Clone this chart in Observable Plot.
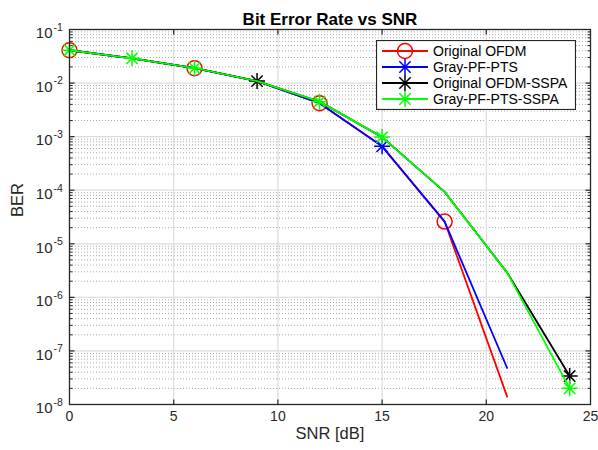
<!DOCTYPE html>
<html>
<head>
<meta charset="utf-8">
<script src="https://cdn.jsdelivr.net/npm/d3@7"></script>
<script src="https://cdn.jsdelivr.net/npm/@observablehq/plot@0.6"></script>
<style>
  body { margin: 0; background: #fff; }
  #chart { position: relative; width: 598px; height: 450px; font-family: "Liberation Sans", Arial, Helvetica, sans-serif; }
  #chart > svg.legend { position: absolute; left: 376px; top: 40px; }
</style>
</head>
<body>
<div id="chart"></div>
<script>
// SNR sample points (dB) and measured bit error rates per scheme
const snr = [0, 3, 6, 9, 12, 15, 18, 21, 24];
const berOriginalOfdm     = [0.041, 0.029, 0.019, 0.0109, 0.0042, 0.00066, 2.6e-5, 1.4e-8];
const berGrayPfPts        = [0.041, 0.029, 0.019, 0.0109, 0.0042, 0.00066, 2.6e-5, 4.8e-8];
const berOriginalOfdmSspa = [0.041, 0.029, 0.019, 0.0109, 0.0045, 0.00098, 9.3e-5, 2.9e-6, 3.4e-8];
const berGrayPfPtsSspa    = [0.041, 0.029, 0.019, 0.0109, 0.0045, 0.00098, 9.3e-5, 2.9e-6, 2.0e-8];

// SNR values at which each curve shows its marker
const markerSnrOriginalOfdm     = [0, 6, 12, 18];
const markerSnrGrayPfPts        = [15];
const markerSnrOriginalOfdmSspa = [9, 24];
const markerSnrGrayPfPtsSspa    = [0, 3, 6, 12, 15, 24];

const seriesNames  = ["Original OFDM", "Gray-PF-PTS", "Original OFDM-SSPA", "Gray-PF-PTS-SSPA"];
const seriesColors = ["#ff0000", "#0000ff", "#000000", "#00ff00"];

const xTicks = [0, 5, 10, 15, 20, 25];
const yTickExponents = [-8, -7, -6, -5, -4, -3, -2, -1];

const title = "Bit Error Rate vs SNR";
const xLabel = "SNR [dB]";
const yLabel = "BER";

// ---------------------------------------------------------------------------
// Custom symbols: eight-armed asterisk marker and one-sided tick marks
const asterisk = {
  draw(ctx, size) {
    const r = Math.sqrt(size / Math.PI), d = r * Math.SQRT1_2;
    ctx.moveTo(-r, 0); ctx.lineTo(r, 0);
    ctx.moveTo(0, -r); ctx.lineTo(0, r);
    ctx.moveTo(-d, -d); ctx.lineTo(d, d);
    ctx.moveTo(-d, d); ctx.lineTo(d, -d);
  }
};
const tickSymbol = (ux, uy) => ({
  draw(ctx, size) {
    const r = Math.sqrt(size / Math.PI);
    ctx.moveTo(0, 0); ctx.lineTo(ux * r, uy * r);
  }
});

const berValues = [berOriginalOfdm, berGrayPfPts, berOriginalOfdmSspa, berGrayPfPtsSspa];
const markerSnrs = [markerSnrOriginalOfdm, markerSnrGrayPfPts, markerSnrOriginalOfdmSspa, markerSnrGrayPfPtsSspa];

const series = seriesNames.map((name, i) => ({
  name,
  color: seriesColors[i],
  symbol: i === 0 ? "circle" : asterisk,
  r: i === 0 ? 7.5 : 8,
  points: berValues[i].map((ber, j) => ({name, snr: snr[j], ber})),
  markers: markerSnrs[i]
}));

const decades = yTickExponents.map(e => Math.pow(10, e));
const minorValues = yTickExponents.slice(0, -1).flatMap(e => d3.range(2, 10).map(k => k * Math.pow(10, e)));
const innerXTicks = xTicks.slice(1, -1);
const innerDecades = decades.slice(1, -1);

const ink = "#262626";

const marks = [
  // grid
  Plot.ruleY(minorValues, {y: d => d, stroke: "#aaaaaa", strokeDasharray: "1,2", strokeWidth: 1}),
  Plot.ruleY(innerDecades, {y: d => d, stroke: "#dcdcdc", strokeWidth: 1.2}),
  Plot.ruleX(innerXTicks, {x: d => d, stroke: "#dcdcdc", strokeWidth: 1.2}),
  // inward ticks on all four sides
  Plot.dot(innerXTicks, {x: d => d, frameAnchor: "bottom", symbol: tickSymbol(0, -1), r: 5, stroke: ink, fill: "none", strokeWidth: 1.2}),
  Plot.dot(innerXTicks, {x: d => d, frameAnchor: "top", symbol: tickSymbol(0, 1), r: 5, stroke: ink, fill: "none", strokeWidth: 1.2}),
  Plot.dot(innerDecades, {y: d => d, frameAnchor: "left", symbol: tickSymbol(1, 0), r: 5, stroke: ink, fill: "none", strokeWidth: 1.2}),
  Plot.dot(innerDecades, {y: d => d, frameAnchor: "right", symbol: tickSymbol(-1, 0), r: 5, stroke: ink, fill: "none", strokeWidth: 1.2}),
  Plot.dot(minorValues, {y: d => d, frameAnchor: "left", symbol: tickSymbol(1, 0), r: 3, stroke: ink, fill: "none", strokeWidth: 1}),
  Plot.dot(minorValues, {y: d => d, frameAnchor: "right", symbol: tickSymbol(-1, 0), r: 3, stroke: ink, fill: "none", strokeWidth: 1}),
  // curves with their markers
  ...series.flatMap(s => [
    Plot.line(s.points, {x: "snr", y: "ber", stroke: s.color, strokeWidth: 1.8}),
    Plot.dot(s.points.filter(p => s.markers.includes(p.snr)), {
      x: "snr", y: "ber", symbol: s.symbol, r: s.r, stroke: s.color, fill: "none", strokeWidth: 1.5
    })
  ]),
  Plot.frame({stroke: ink, strokeWidth: 1.3}),
  // tick labels
  Plot.text(xTicks, {x: d => d, text: d => String(d), frameAnchor: "bottom", dy: 16, fontSize: 14, fill: ink}),
  Plot.text(decades, {y: d => d, text: () => "10", frameAnchor: "left", textAnchor: "end", dx: -17, dy: 4, fontSize: 15, fill: ink}),
  Plot.text(yTickExponents, {y: e => Math.pow(10, e), text: e => String(e), frameAnchor: "left", textAnchor: "start", dx: -16, dy: -2, fontSize: 10.5, fill: ink}),
  // titles
  Plot.text([title], {text: d => d, frameAnchor: "top", lineAnchor: "bottom", dy: -5, fontSize: 17, fontWeight: "bold", fill: "#000"}),
  Plot.text([xLabel], {text: d => d, frameAnchor: "bottom", dy: 34, fontSize: 16.5, fill: ink}),
  Plot.text([yLabel], {text: d => d, frameAnchor: "left", dx: -52, rotate: -90, fontSize: 16.5, fill: ink})
];

const chart = Plot.plot({
  width: 598,
  height: 450,
  marginLeft: 69,
  marginRight: 8,
  marginTop: 29,
  marginBottom: 46,
  style: {fontFamily: "\"Liberation Sans\", Arial, Helvetica, sans-serif", background: "#fff", overflow: "visible"},
  x: {domain: [0, 25], axis: null},
  y: {type: "log", domain: [1e-8, 1e-1], axis: null},
  marks
});

const container = document.getElementById("chart");
container.appendChild(chart);

// Legend box in the upper-right corner of the axes
const legendW = 200, legendH = 70, rowStep = 16, firstRow = 11;
const legend = d3.create("svg")
  .attr("class", "legend")
  .attr("width", legendW)
  .attr("height", legendH)
  .style("font-family", "\"Liberation Sans\", Arial, Helvetica, sans-serif");
legend.append("rect")
  .attr("x", 0.5).attr("y", 0.5)
  .attr("width", legendW - 1).attr("height", legendH - 1)
  .attr("fill", "#fff").attr("stroke", ink).attr("stroke-width", 1.2);
series.forEach((s, i) => {
  const cy = firstRow + rowStep * i;
  const g = legend.append("g");
  g.append("line")
    .attr("x1", 6).attr("x2", 52).attr("y1", cy).attr("y2", cy)
    .attr("stroke", s.color).attr("stroke-width", 1.8);
  const symType = s.symbol === "circle" ? d3.symbolCircle : asterisk;
  g.append("path")
    .attr("transform", `translate(29,${cy})`)
    .attr("d", d3.symbol(symType, Math.PI * s.r * s.r)())
    .attr("fill", "none").attr("stroke", s.color).attr("stroke-width", 1.5);
  g.append("text")
    .attr("x", 57).attr("y", cy)
    .attr("dy", "0.35em")
    .attr("font-size", 14)
    .attr("fill", "#000")
    .text(s.name);
});
container.appendChild(legend.node());
</script>
</body>
</html>
